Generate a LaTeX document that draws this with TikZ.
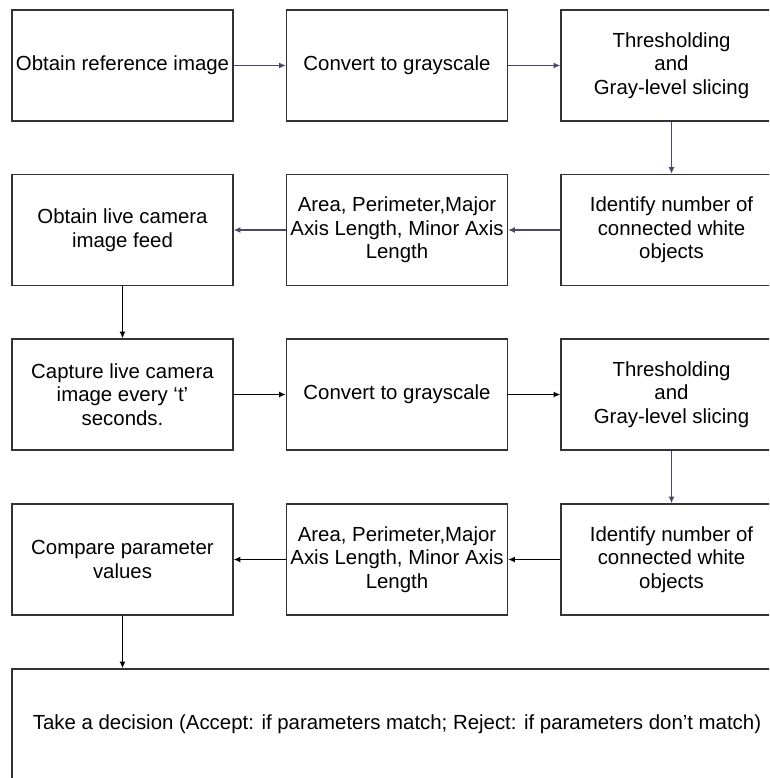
\documentclass[tikz,border=0pt]{standalone}
\usepackage{fontspec}
\setmainfont{Liberation Sans}
\usetikzlibrary{arrows.meta}
\definecolor{slate}{RGB}{72,72,108}
\tikzset{
  stufe/.style={draw=black!80, line width=1.1pt, rectangle, minimum width=165.75pt, minimum height=83.25pt, inner sep=1pt, align=center, font=\fontsize{15.3}{17.6}\selectfont},
  pfeil/.style={-{Latex[length=5pt,width=4.5pt]}, line width=0.9pt},
}
\begin{document}
\begin{tikzpicture}[x=0.75pt, y=-0.75pt]
	\clip (0,0) rectangle (769,778); % Rand wie im Original
	\fill[white] (0,0) rectangle (769,778);
	
	% Referenzbild
	\node[stufe] (ref)  at (122.5,65.5) {Obtain reference image};
	\node[stufe] (grau1) at (397,65.5) {Convert to grayscale};
	\node[stufe] (schw1) at (671.5,65.5) {Thresholding\\and\\Gray-level slicing};
	\node[stufe] (obj1) at (671.5,230) {Identify number of\\connected white\\objects};
	\node[stufe] (par1) at (397,230) {Area, Perimeter,Major\\Axis Length, Minor Axis\\Length};
	\node[stufe] (live) at (122.5,230) {Obtain live camera\\image feed};
	
	% Livebild
	\node[stufe] (takt) at (122.5,394.5) {Capture live camera\\image every `t'\\seconds.};
	\node[stufe] (grau2) at (397,394.5) {Convert to grayscale};
	\node[stufe] (schw2) at (671.5,394.5) {Thresholding\\and\\Gray-level slicing};
	\node[stufe] (obj2) at (671.5,559.5) {Identify number of\\connected white\\objects};
	\node[stufe] (par2) at (397,559.5) {Area, Perimeter,Major\\Axis Length, Minor Axis\\Length};
	\node[stufe] (vgl)  at (122.5,559.5) {Compare parameter\\values};
	
	\node[stufe, minimum width=577.5pt] (ent) at (397,724.5) {Take a decision (Accept: if parameters match; Reject: if parameters don't match)};
	
	% Pfeile
	\draw[pfeil, slate] (ref) -- (grau1);
	\draw[pfeil, slate] (grau1) -- (schw1);
	\draw[pfeil, slate] (schw1) -- (obj1);
	\draw[pfeil, slate] (obj1) -- (par1);
	\draw[pfeil, slate] (par1) -- (live);
	\draw[pfeil] (live) -- (takt);
	\draw[pfeil] (takt) -- (grau2);
	\draw[pfeil] (grau2) -- (schw2);
	\draw[pfeil, slate] (schw2) -- (obj2);
	\draw[pfeil] (obj2) -- (par2);
	\draw[pfeil] (par2) -- (vgl);
	\draw[pfeil] (vgl.south) -- (vgl.south |- ent.north);
	
	%\draw[help lines] (0,0) grid[step=50] (769,778);
\end{tikzpicture}
\end{document}
